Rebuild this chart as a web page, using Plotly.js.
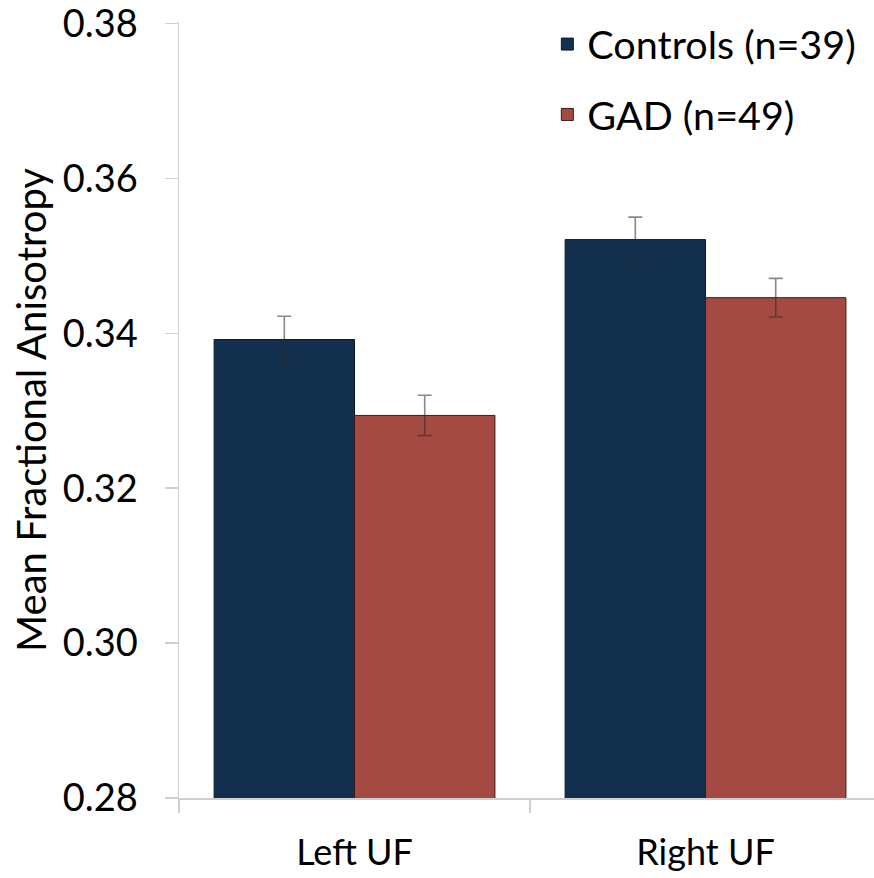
<!DOCTYPE html>
<html>
<head>
<meta charset="utf-8">
<script src="https://cdn.plot.ly/plotly-3.0.1.min.js"></script>
<style>html,body{margin:0;padding:0;background:#fff;}#chart{width:874px;height:878px;}</style>
</head>
<body>
<div id="chart"></div>
<script>
const categories = ["Left UF", "Right UF"];
const seriesNames = ["Controls (n=39)", "GAD (n=49)"];
const controlsMean = [0.3392, 0.3521];
const controlsErr = [0.0030, 0.0029];
const gadMean = [0.3294, 0.3446];
const gadErr = [0.0026, 0.0025];
const yTick0 = 0.28;
const yTickStep = 0.02;

const errStyle = {type: "data", visible: true, color: "rgba(40,40,40,0.55)", thickness: 1.6, width: 7};

const traces = [
  {type: "bar", name: seriesNames[0], x: categories, y: controlsMean, legendgroup: "a",
   marker: {color: "#132f4e", line: {color: "#0b1a2b", width: 1}},
   error_y: Object.assign({array: controlsErr}, errStyle)},
  {type: "bar", name: seriesNames[1], x: categories, y: gadMean, legendgroup: "b",
   marker: {color: "#a54a42", line: {color: "#3a1a16", width: 1}},
   error_y: Object.assign({array: gadErr}, errStyle)}
];

const layout = {
  width: 874, height: 878,
  margin: {l: 179, r: 0, t: 22, b: 80},
  paper_bgcolor: "#fff", plot_bgcolor: "#fff",
  font: {family: "Lato, 'Open Sans', sans-serif", color: "#000", size: 36},
  barmode: "group", bargap: 0.2, bargroupgap: 0,
  showlegend: true,
  legend: {x: 0.53, y: 1.013, xanchor: "left", yanchor: "top", bgcolor: "rgba(0,0,0,0)",
           font: {size: 39.5}, traceorder: "grouped", tracegroupgap: 16},
  xaxis: {type: "category", range: [-0.5, 1.48], showgrid: false, zeroline: false,
          showline: true, linecolor: "#d0d0d0", linewidth: 1.5,
          ticks: "outside", ticklen: 13, tickcolor: "#d0d0d0", tickwidth: 1.5,
          tickson: "boundaries", tickfont: {size: 36}, ticklabelstandoff: 22},
  yaxis: {range: [0.28, 0.3802], tickmode: "linear", tick0: yTick0, dtick: yTickStep, tickformat: ".2f",
          showgrid: false, zeroline: false, showline: true, linecolor: "#d0d0d0", linewidth: 1.5,
          ticks: "outside", ticklen: 13, tickcolor: "#d0d0d0", tickwidth: 1.5,
          tickfont: {size: 38}, ticklabelstandoff: 19, ticklabeloverflow: "allow",
          title: {text: "Mean Fractional Anisotropy", font: {size: 40}, standoff: 4}}
};

Plotly.newPlot("chart", traces, layout, {displayModeBar: false, staticPlot: true});
</script>
</body>
</html>
